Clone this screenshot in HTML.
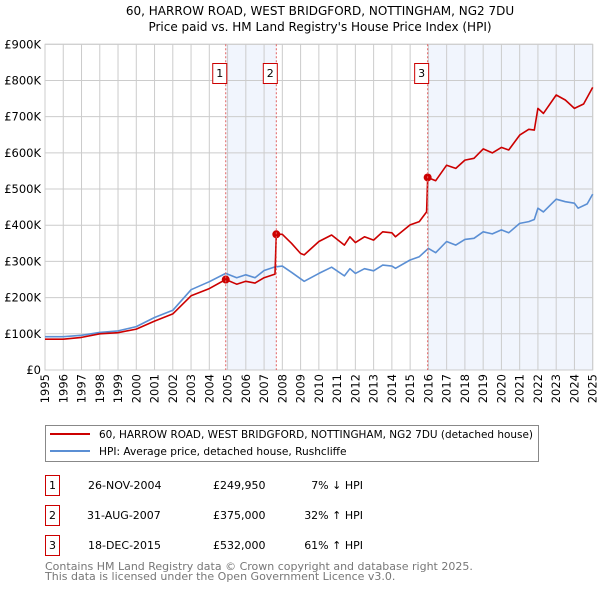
<!DOCTYPE html>
<html><head><meta charset="utf-8"><style>
html,body{margin:0;padding:0;background:#fff;}
svg{display:block;font-family:"DejaVu Sans","Liberation Sans",sans-serif;}
</style></head><body>
<svg id="chart" width="600" height="590" viewBox="0 0 600 590">
<text x="320" y="15" text-anchor="middle" font-size="12" fill="#000">60, HARROW ROAD, WEST BRIDGFORD, NOTTINGHAM, NG2 7DU</text>
<text x="320" y="31" text-anchor="middle" font-size="12" fill="#000">Price paid vs. HM Land Registry's House Price Index (HPI)</text>
<g id="shading"></g>
<g id="grid"></g>
<g id="yaxis"></g>
<g id="xaxis"></g>
<g id="series"></g>
<g id="markers"></g>

<g>
<rect x="45.5" y="425.5" width="493" height="36" fill="#fff" stroke="#888"/>
<line x1="50" y1="434" x2="90" y2="434" stroke="#cc0000" stroke-width="2"/>
<text x="99" y="438" font-size="10.6" textLength="434" lengthAdjust="spacingAndGlyphs">60, HARROW ROAD, WEST BRIDGFORD, NOTTINGHAM, NG2 7DU (detached house)</text>
<line x1="50" y1="451" x2="90" y2="451" stroke="#5b8fd4" stroke-width="2"/>
<text x="99" y="455" font-size="10.6">HPI: Average price, detached house, Rushcliffe</text>
</g>

<g font-size="11">
<rect x="45.5" y="475.5" width="14" height="20" fill="none" stroke="#cc0000"/>
<text x="52.5" y="489" text-anchor="middle">1</text>
<text x="88" y="489">26-NOV-2004</text>
<text x="213" y="489">£249,950</text>
<text x="363" y="489" text-anchor="end">7% ↓ HPI</text>
<rect x="45.5" y="505.5" width="14" height="20" fill="none" stroke="#cc0000"/>
<text x="52.5" y="519" text-anchor="middle">2</text>
<text x="87" y="519">31-AUG-2007</text>
<text x="213" y="519">£375,000</text>
<text x="363" y="519" text-anchor="end">32% ↑ HPI</text>
<rect x="45.5" y="535.5" width="14" height="20" fill="none" stroke="#cc0000"/>
<text x="52.5" y="549" text-anchor="middle">3</text>
<text x="88" y="549">18-DEC-2015</text>
<text x="213" y="549">£532,000</text>
<text x="363" y="549" text-anchor="end">61% ↑ HPI</text>
</g>
<text x="45" y="570" font-size="11" fill="#777">Contains HM Land Registry data © Crown copyright and database right 2025.</text>
<text x="45" y="580" font-size="11" fill="#777">This data is licensed under the Open Government Licence v3.0.</text>
</svg>
<script>
const yTickValues=[0,100000,200000,300000,400000,500000,600000,700000,800000,900000];
const yTickLabels=["£0","£100K","£200K","£300K","£400K","£500K","£600K","£700K","£800K","£900K"];
const xTickYears=[1995,1996,1997,1998,1999,2000,2001,2002,2003,2004,2005,2006,2007,2008,2009,2010,2011,2012,2013,2014,2015,2016,2017,2018,2019,2020,2021,2022,2023,2024,2025];
const hpiYears=[1995,1996,1997,1998,1999,2000,2001,2002,2003,2004,2004.9,2005.5,2006,2006.5,2007,2007.6,2008,2008.5,2009,2009.2,2010,2010.7,2011.4,2011.7,2012,2012.5,2013,2013.5,2014,2014.2,2015,2015.5,2016,2016.4,2017,2017.5,2018,2018.5,2019,2019.5,2020,2020.4,2021,2021.5,2021.8,2022,2022.3,2023,2023.5,2024,2024.2,2024.7,2025];
const hpiValues=[92,92,96,104,108,120,145,165,222,244,267,255,263,255,275,285,287,270,252,245,267,284,260,280,267,280,274,290,287,281,304,313,336,324,355,345,361,364,382,376,387,379,405,410,416,447,437,472,465,461,447,459,486];
const propYears=[1995,1996,1997,1998,1999,2000,2001,2002,2003,2004,2004.9,2005.5,2006,2006.5,2007,2007.6,2007.67,2008,2008.5,2009,2009.2,2010,2010.7,2011.4,2011.7,2012,2012.5,2013,2013.5,2014,2014.2,2015,2015.5,2015.9,2015.96,2016.4,2017,2017.5,2018,2018.5,2019,2019.5,2020,2020.4,2021,2021.5,2021.8,2022,2022.3,2023,2023.5,2024,2024.5,2025];
const propValues=[85,85,90,100,103,113,135,155,205,225,250,237,245,240,255,265,375,375,350,322,318,355,373,345,368,352,368,359,382,379,368,401,410,437,532,523,566,557,580,585,611,600,615,608,649,665,663,723,709,760,746,723,735,781];
const saleYears=[2004.9,2007.67,2015.96];
const saleValues=[249950,375000,532000];
const saleLabels=["1","2","3"];

const NS="http://www.w3.org/2000/svg";
const L=45,R=592.7,T=44.3,B=370;
const xs=y=>L+(y-1995)/30*(R-L);
const ys=v=>B-v/900000*(B-T);
function mk(tag,attrs,parent){const e=document.createElementNS(NS,tag);for(const k in attrs)e.setAttribute(k,attrs[k]);parent.appendChild(e);return e;}
const g=id=>document.getElementById(id);

let s=mk('rect',{x:xs(saleYears[0]),y:T,width:xs(saleYears[1])-xs(saleYears[0]),height:B-T,fill:'#eef3fc',opacity:0.8},g('shading'));


s=mk('rect',{x:xs(saleYears[2]),y:T,width:R-xs(saleYears[2]),height:B-T,fill:'#eef3fc',opacity:0.8},g('shading'));



yTickValues.forEach((v,i)=>{
 const l=mk('line',{x1:L,x2:R,y1:ys(v),y2:ys(v),stroke:'#cccccc','stroke-width':1},g('grid'));
 
 
 const t=mk('text',{x:L-4,y:ys(v)+4,'text-anchor':'end','font-size':11.5},g('yaxis'));
 t.textContent=yTickLabels[i];
 
 
});
xTickYears.forEach(yr=>{
 const x=xs(yr);
 const l=mk('line',{x1:x,x2:x,y1:T,y2:B,stroke:'#cccccc','stroke-width':1},g('grid'));
 
 
 const t=mk('text',{x:0,y:0,'text-anchor':'end','font-size':11.5,transform:`translate(${x+4},${B+4}) rotate(-90)`},g('xaxis'));
 t.textContent=yr;
 
 
});

saleYears.forEach((yr,i)=>{
 const x=xs(yr);
 const l=mk('line',{x1:x,x2:x,y1:T,y2:B,stroke:'#e06060','stroke-width':1,'stroke-dasharray':'2,2'},g('markers'));
 
 
 const r=mk('rect',{x:x-7-6,y:63.5,width:14,height:20,fill:'#fff',stroke:'#cc0000'},g('markers'));
 
 
 const t=mk('text',{x:x-6,y:77,'text-anchor':'middle','font-size':11},g('markers'));
 t.textContent=saleLabels[i];
 
 
});

function line(xa,va,color,name){
 const d=xa.map((yr,i)=>(i?'L':'M')+xs(yr).toFixed(1)+','+ys(va[i]*1000).toFixed(1)).join(' ');
 const p=mk('path',{d:d,fill:'none',stroke:color,'stroke-width':1.6,'stroke-linejoin':'round'},g('series'));
 
 
}
line(hpiYears,hpiValues,'#5b8fd4','hpi-line');
line(propYears,propValues,'#cc0000','property-line');
saleYears.forEach((yr,i)=>{
 const c=mk('circle',{cx:xs(yr),cy:ys(saleValues[i]),r:4,fill:'#cc0000'},g('series'));
 
 
});
mk('rect',{x:L,y:T,width:R-L,height:B-T,fill:'none',stroke:'#cccccc'},g('grid'));
</script>
</body></html>
